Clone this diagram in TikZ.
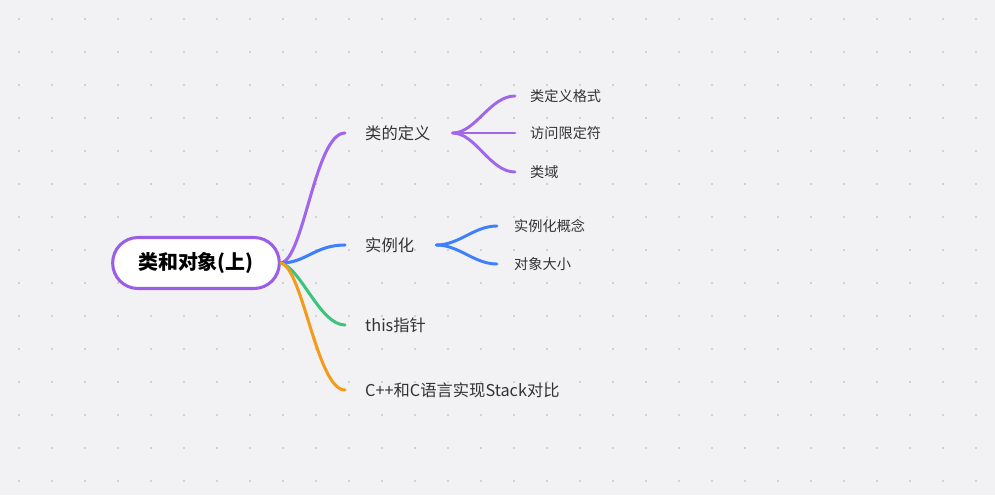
\documentclass[tikz,border=0pt]{standalone}
\usepackage{fontspec}
\setmainfont{Noto Sans CJK SC}
\usetikzlibrary{calc}
\definecolor{bg}{HTML}{F2F2F4}
\definecolor{gridc}{HTML}{D2D2D6}
\definecolor{ink}{HTML}{333333}
\definecolor{lila}{HTML}{A066EC}
\definecolor{lilaroot}{HTML}{9B5DE5}
\definecolor{azul}{HTML}{3D80FF}
\definecolor{verde}{HTML}{3CC47C}
\definecolor{naranja}{HTML}{F59B1B}

\begin{document}
\begin{tikzpicture}[x=0.03cm,y=-0.03cm,
  topic/.style={font=\fontsize{13.9}{16}\selectfont,text=ink,anchor=west,inner sep=0pt},
  leaf/.style={font=\fontsize{12.1}{14}\selectfont,text=ink,anchor=west,inner sep=0pt},
  branch/.style={line width=2.6pt,line cap=round},
  twig/.style={line width=2.5pt,line cap=round}]
\fill[bg] (0,0) rectangle (995,495);
\useasboundingbox (0,0) rectangle (995,495);
\foreach \x in {19,52,...,985}
  \foreach \y in {19,52,...,485}
    \fill[gridc] (\x-1,\y-1) rectangle +(2,2);
% root
\node[draw=lilaroot,line width=2.6pt,fill=white,rounded corners=0.76cm,minimum width=5cm,minimum height=1.53cm,
  font=\fontsize{17}{20}\selectfont\bfseries,text=black] (root) at (196,263) {类和对象(上)};
% first level
\node[topic] (def) at (365,133) {类的定义};
\node[topic] (inst) at (365,245) {实例化};
\node[topic] (this) at (365,325) {this指针};
\node[topic] (stack) at (365,390) {C++和C语言实现Stack对比};
\draw[branch,lila] (root.east) .. controls ($(root.east)+(23,-3)$) and ($(def.west)+(-50,0)$) .. ($(def.west)+(-20,0)$);
\draw[branch,azul] (root.east) .. controls ($(root.east)+(25,0)$) and ($(inst.west)+(-50,0)$) .. ($(inst.west)+(-20,0)$);
\draw[branch,verde] (root.east) .. controls ($(root.east)+(20,5)$) and ($(this.west)+(-45,0)$) .. ($(this.west)+(-20,0)$);
\draw[branch,naranja] (root.east) .. controls ($(root.east)+(22,5)$) and ($(stack.west)+(-48,0)$) .. ($(stack.west)+(-20,0)$);
% second level
\node[leaf] (fmt) at (530,96) {类定义格式};
\node[leaf] (acc) at (530,133) {访问限定符};
\node[leaf] (dom) at (530,172) {类域};
\node[leaf] (con) at (514,226) {实例化概念};
\node[leaf] (siz) at (514,264) {对象大小};
\foreach \n in {fmt,acc,dom}
  \draw[twig,lila] ($(def.east)+(22,0)$) .. controls ($(def.east)+(45,0)$) and ($(\n.west)+(-40,0)$) .. ($(\n.west)+(-15,0)$);
\foreach \n in {con,siz}
  \draw[twig,azul] ($(inst.east)+(22,0)$) .. controls ($(inst.east)+(45,0)$) and ($(\n.west)+(-40,0)$) .. ($(\n.west)+(-17,0)$);
\end{tikzpicture}
\end{document}
